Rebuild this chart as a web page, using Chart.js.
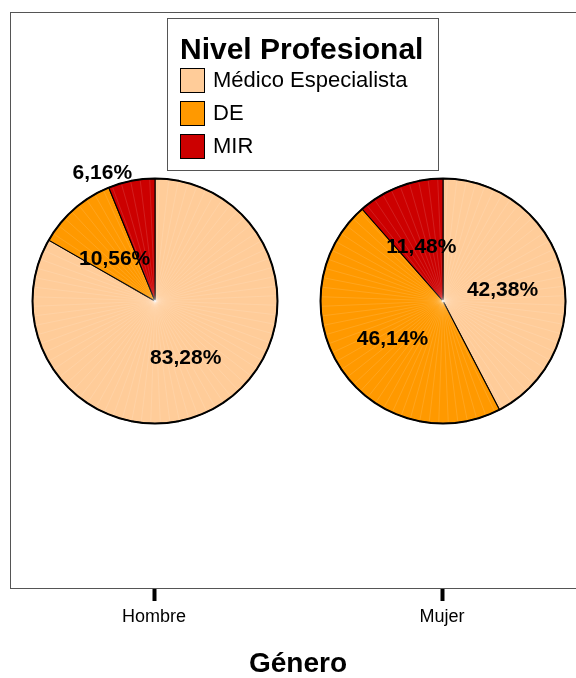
<!DOCTYPE html>
<html>
<head>
<meta charset="utf-8">
<script src="https://cdn.jsdelivr.net/npm/chart.js@4.4.1/dist/chart.umd.min.js"></script>
<style>
  html, body { margin: 0; padding: 0; background: #fff; overflow: hidden; }
  #wrap { position: relative; width: 590px; height: 678px; }
  #baseBox { position: absolute; left: 0; top: 0; width: 590px; height: 678px; }
  .pieBox { position: absolute; width: 320px; height: 320px; pointer-events: none; }
</style>
</head>
<body>
<div id="wrap">
  <div id="baseBox"><canvas id="base"></canvas></div>
  <div class="pieBox" id="pieBox0"><canvas id="pie0"></canvas></div>
  <div class="pieBox" id="pieBox1"><canvas id="pie1"></canvas></div>
</div>
<script>
// Distribución del nivel profesional por género (porcentajes)
const genders = ['Hombre', 'Mujer'];
const levels = ['Médico Especialista', 'DE', 'MIR'];
const hombre = [83.28, 10.56, 6.16];
const mujer = [42.38, 46.14, 11.48];
const levelColors = ['#FFCC99', '#FF9900', '#CC0000'];
const legendTitle = 'Nivel Profesional';
const axisTitle = 'Género';

const FONT = '"Liberation Sans", Arial, Helvetica, sans-serif';
Chart.defaults.font.family = FONT;
Chart.defaults.color = '#000';

const fmtPct = v => v.toFixed(2).replace('.', ',') + '%';

// Panel frame and the legend box drawn inside the plot area
const panelDecor = {
  id: 'panelDecor',
  afterDraw(chart) {
    const { ctx, chartArea: a } = chart;
    ctx.save();
    ctx.strokeStyle = '#555';
    ctx.lineWidth = 1;
    ctx.strokeRect(a.left + 0.5, a.top + 0.5, a.right - a.left, a.bottom - a.top);

    // legend
    const bx = 167.5, by = 18.5, bw = 271, bh = 152;
    ctx.fillStyle = '#fff';
    ctx.fillRect(bx, by, bw, bh);
    ctx.strokeStyle = '#555';
    ctx.strokeRect(bx, by, bw, bh);
    ctx.fillStyle = '#000';
    ctx.textAlign = 'left';
    ctx.textBaseline = 'middle';
    ctx.font = 'bold 30px ' + FONT;
    ctx.fillText(legendTitle, 180, 51);
    const rowY = [68, 101, 134];
    ctx.font = '22px ' + FONT;
    levels.forEach((lab, i) => {
      ctx.fillStyle = levelColors[i];
      ctx.fillRect(180.5, rowY[i] + 0.5, 24, 24);
      ctx.strokeStyle = '#000';
      ctx.lineWidth = 1;
      ctx.strokeRect(180.5, rowY[i] + 0.5, 24, 24);
      ctx.fillStyle = '#000';
      ctx.fillText(lab, 213, rowY[i] + 13);
    });
    ctx.restore();
  }
};

const base = new Chart(document.getElementById('base'), {
  type: 'bar',
  data: { labels: genders, datasets: [] },
  options: {
    responsive: true,
    maintainAspectRatio: false,
    animation: false,
    layout: { padding: { left: 10, right: 4, top: 12, bottom: 0 } },
    plugins: { legend: { display: false }, tooltip: { enabled: false } },
    scales: {
      x: {
        type: 'category',
        offset: true,
        afterFit(scale) { scale.height = 90; },
        border: { display: false },
        grid: {
          display: true, drawOnChartArea: false, drawTicks: true, offset: false,
          tickLength: 13, tickColor: '#000', tickWidth: 4
        },
        ticks: { font: { size: 18 }, color: '#000', padding: 5 },
        title: {
          display: true, text: axisTitle, color: '#000',
          font: { size: 28, weight: 'bold', lineHeight: 1.0 }, padding: { top: 0, bottom: 0 }
        }
      },
      y: { display: false, min: 0, max: 1 }
    }
  },
  plugins: [panelDecor]
});

// Percentage labels, fine radial shading and the outer outline of each pie
const sliceLabels = {
  id: 'sliceLabels',
  afterDatasetsDraw(chart, args, opts) {
    const ctx = chart.ctx;
    const meta = chart.getDatasetMeta(0);
    const data = chart.data.datasets[0].data;
    const total = data.reduce((s, v) => s + v, 0);
    const first = meta.data[0];
    const cx = first.x, cy = first.y, R = first.outerRadius;

    ctx.save();
    ctx.strokeStyle = 'rgba(255,255,255,0.2)';
    ctx.lineWidth = 0.6;
    for (let k = 0; k < 80; k++) {
      const ang = (k * 4.5 + 2) * Math.PI / 180;
      ctx.beginPath();
      ctx.moveTo(cx, cy);
      ctx.lineTo(cx + (R - 1.5) * Math.cos(ang), cy + (R - 1.5) * Math.sin(ang));
      ctx.stroke();
    }

    // faceted outer edge
    ctx.strokeStyle = '#000';
    ctx.lineWidth = 2;
    ctx.lineJoin = 'round';
    ctx.beginPath();
    const n = 64;
    for (let k = 0; k <= n; k++) {
      const ang = -Math.PI / 2 + k * 2 * Math.PI / n;
      const px = cx + R * Math.cos(ang), py = cy + R * Math.sin(ang);
      if (k === 0) ctx.moveTo(px, py); else ctx.lineTo(px, py);
    }
    ctx.closePath();
    ctx.stroke();

    ctx.fillStyle = '#000';
    ctx.font = 'bold 21px ' + FONT;
    ctx.textAlign = 'center';
    ctx.textBaseline = 'middle';
    meta.data.forEach((arc, i) => {
      const share = data[i] / total * 100;
      const outside = share < opts.outsideBelow;
      const ang = outside ? arc.startAngle : (arc.startAngle + arc.endAngle) / 2;
      const r = arc.outerRadius * (outside ? opts.outsideRadius : opts.insideRadius);
      ctx.fillText(fmtPct(data[i]), arc.x + r * Math.cos(ang), arc.y + r * Math.sin(ang) + (outside ? 2 : 4));
    });
    ctx.restore();
  }
};

const series = [hombre, mujer];
const xs = base.scales.x;
const area = base.chartArea;
const cyPie = (area.top + area.bottom) / 2;

series.forEach((vals, i) => {
  const box = document.getElementById('pieBox' + i);
  box.style.left = (xs.getPixelForValue(i) + 1 - 160) + 'px';
  box.style.top = (cyPie + 1 - 160) + 'px';
  new Chart(document.getElementById('pie' + i), {
    type: 'pie',
    data: {
      labels: levels,
      datasets: [{
        data: vals,
        backgroundColor: levelColors,
        borderColor: '#000',
        borderWidth: 1.1
      }]
    },
    options: {
      responsive: true,
      maintainAspectRatio: false,
      animation: false,
      radius: 122.5,
      layout: { padding: 0 },
      plugins: {
        legend: { display: false },
        tooltip: { enabled: false },
        sliceLabels: { insideRadius: 0.5, outsideRadius: 1.14, outsideBelow: 8 }
      }
    },
    plugins: [sliceLabels]
  });
});
</script>
</body>
</html>
